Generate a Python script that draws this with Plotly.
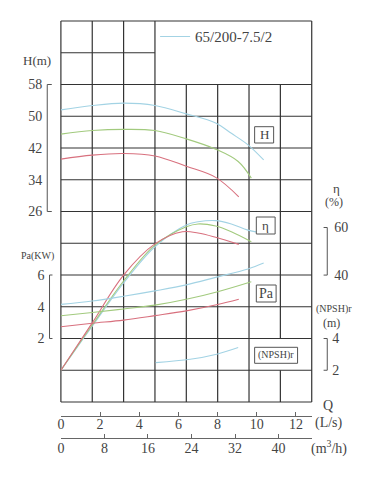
import plotly.graph_objects as go

W, HGT = 380, 479
FONT = "Liberation Serif"
TXT = "#444444"
GRID = "#333333"
C_BLUE, C_GREEN, C_RED = "#a3d3e4", "#a2ca7e", "#d8707e"

# ---------------- data ----------------
q_blue_h = [0, 1.6, 3.2, 4.8, 6.4, 7.9, 8.7, 9.55, 10.35]
h_blue = [51.6, 52.7, 53.3, 52.7, 50.6, 48.3, 45.7, 42.8, 39.0]
q_green_h = [0, 1.6, 3.2, 4.8, 6.4, 7.9, 9.05, 9.72]
h_green = [45.5, 46.4, 46.7, 46.4, 44.3, 41.7, 38.6, 34.4]
q_red_h = [0, 1.6, 3.2, 4.8, 6.4, 7.9, 9.08]
h_red = [39.2, 40.2, 40.6, 40.0, 37.4, 34.6, 29.7]

q_blue_eta = [0, 0.8, 1.6, 3.2, 4.8, 6.4, 7.0, 7.9, 8.7, 9.55, 10.35]
eta_blue = [0, 9.3, 18.5, 36.7, 51.9, 61.1, 62.4, 62.9, 61.5, 58.9, 57.6]
q_green_eta = [0, 0.8, 1.6, 3.2, 4.8, 6.4, 7.0, 7.9, 8.7, 9.72]
eta_green = [0, 9.6, 19.0, 37.5, 52.6, 60.3, 61.5, 60.6, 58.2, 54.0]
q_red_eta = [0, 0.8, 1.6, 3.2, 4.8, 6.2, 7.0, 7.9, 9.08]
eta_red = [0, 10.0, 19.9, 40.0, 53.1, 58.2, 57.7, 55.9, 52.9]

q_blue_pa = [0, 1.6, 3.2, 4.8, 6.4, 7.9, 9.55, 10.35]
pa_blue = [4.15, 4.36, 4.66, 5.0, 5.38, 5.85, 6.38, 6.75]
q_green_pa = [0, 1.6, 3.2, 4.8, 6.4, 8.0, 9.72]
pa_green = [3.43, 3.64, 3.86, 4.1, 4.47, 4.95, 5.58]
q_red_pa = [0, 1.6, 3.2, 4.8, 6.4, 8.0, 9.08]
pa_red = [2.74, 2.96, 3.16, 3.44, 3.74, 4.14, 4.47]

q_npsh = [4.84, 6.6, 7.95, 9.05]
npsh_blue = [2.48, 2.69, 3.01, 3.43]

q_ls_ticks = [0, 2, 4, 6, 8, 10, 12]
q_m3h_ticks = [0, 8, 16, 24, 32, 40]
h_ticks = [26, 34, 42, 50, 58]
pa_ticks = [2, 4, 6]
eta_ticks = [40, 60]
npsh_ticks = [2, 4]
model_name = "65/200-7.5/2"

# ---------------- helpers ----------------
def fx(p):
    return p / W

def fy(p):
    return 1 - p / HGT

X0, X1, Y0, Y1 = 57.5, 311.0, 21.0, 402.0
NCOL, NROW = 8, 12
cw = (X1 - X0) / NCOL
rh = (Y1 - Y0) / NROW

fig = go.Figure()

def add(x, y, color, yaxis, name=None, legend=False):
    fig.add_trace(go.Scatter(
        x=x, y=y, mode="lines", xaxis="x", yaxis=yaxis,
        line=dict(color=color, width=1.1, shape="spline", smoothing=1.0),
        name=name, showlegend=legend, hoverinfo="skip"))

add(q_blue_h, h_blue, C_BLUE, "y", model_name, True)
add(q_green_h, h_green, C_GREEN, "y")
add(q_red_h, h_red, C_RED, "y")
add(q_blue_eta, eta_blue, C_BLUE, "y2")
add(q_green_eta, eta_green, C_GREEN, "y2")
add(q_red_eta, eta_red, C_RED, "y2")
add(q_blue_pa, pa_blue, C_BLUE, "y3")
add(q_green_pa, pa_green, C_GREEN, "y3")
add(q_red_pa, pa_red, C_RED, "y3")
add(q_npsh, npsh_blue, C_BLUE, "y4")
# carrier for the m3/h axis
fig.add_trace(go.Scatter(x=[None], y=[None], xaxis="x2", yaxis="y",
                         showlegend=False, hoverinfo="skip"))

# ---------------- grid ----------------
shapes = []
def seg(xa, ya, xb, yb, color=GRID, w=1.2):
    shapes.append(dict(type="line", xref="paper", yref="paper",
                       x0=fx(xa), y0=fy(ya), x1=fx(xb), y1=fy(yb),
                       line=dict(color=color, width=w), layer="below"))

for i in range(NCOL + 1):
    x = X0 + i * cw
    if i in (0, 1, 2, 3, 8):
        seg(x, Y0, x, Y1)
    elif i == 7:
        seg(x, Y0 + 2 * rh, x, Y0 + 10 * rh)
        seg(x, Y0 + 11 * rh, x, Y1)
    else:
        seg(x, Y0 + 2 * rh, x, Y1)
for j in range(NROW + 1):
    y = Y0 + j * rh
    if j == 1:
        seg(X0, y, X0 + 3 * cw, y)
    else:
        seg(X0, y, X1, y)

# brackets on value axes
def bracket(xv, xt, yref, lo, hi):
    path = (f"M {fx(xt)},{hi} L {fx(xv)},{hi} L {fx(xv)},{lo} L {fx(xt)},{lo}")
    shapes.append(dict(type="path", xref="paper", yref=yref, path=path,
                       line=dict(color="#555555", width=1)))

bracket(43.7, 48.3, "y", h_ticks[0], h_ticks[-1])
bracket(46.0, 49.0, "y3", pa_ticks[0], pa_ticks[-1])
bracket(326.7, 323.0, "y2", eta_ticks[0], eta_ticks[-1])
bracket(326.7, 323.0, "y4", npsh_ticks[0], npsh_ticks[-1])

# label boxes
def box(xa, ya, xb, yb):
    shapes.append(dict(type="rect", xref="paper", yref="paper",
                       x0=fx(xa), y0=fy(ya), x1=fx(xb), y1=fy(yb),
                       line=dict(color="#555555", width=1), fillcolor="white",
                       layer="above"))

box(253.3, 126.7, 272.5, 143.0)
box(255.0, 217.0, 274.0, 234.0)
box(255.0, 285.0, 275.0, 302.0)
box(253.3, 347.3, 296.7, 363.3)

anns = []
def text(s, xp, yp, size, xanchor="center"):
    anns.append(dict(text=s, x=fx(xp), y=fy(yp), xref="paper", yref="paper",
                     showarrow=False, xanchor=xanchor, yanchor="middle",
                     font=dict(family=FONT, size=size, color=TXT)))

text("H", 262.9, 135.0, 13)
text("η", 264.5, 225.5, 13)
text("Pa", 265.0, 293.5, 14)
text("(NPSH)r", 275.0, 355.3, 10)
text("H(m)", 33, 61, 13)
text("Pa(KW)", 34, 256, 10)
text("η", 335.7, 188, 13)
text("(%)", 334, 202, 12)
text("(NPSH)r", 333.3, 309, 10)
text("(m)", 331, 322.7, 12)
text("Q", 327.7, 405.7, 14)
text("(L/s)", 328.3, 422.7, 14)
text("(m<sup>3</sup>/h)", 328.7, 447.3, 14)

tickfont = dict(family=FONT, size=14, color=TXT)
xdom = [fx(X0), fx(X1)]
ydom = [fy(Y1), fy(Y0)]
QMAX = (X1 - X0) / 19.8

def yrange(val_at_px, px_per_unit, ref_px):
    bottom = val_at_px - (Y1 - ref_px) / px_per_unit
    top = val_at_px + (ref_px - Y0) / px_per_unit
    return [bottom, top]

fig.update_layout(
    width=W, height=HGT, margin=dict(l=0, r=0, t=0, b=0),
    paper_bgcolor="white", plot_bgcolor="white",
    shapes=shapes, annotations=anns,
    showlegend=True,
    legend=dict(x=fx(152.7), y=fy(36.7), xanchor="left", yanchor="middle",
                bgcolor="rgba(0,0,0,0)", font=dict(family=FONT, size=15, color=TXT),
                itemwidth=30),
    xaxis=dict(domain=xdom, range=[0, QMAX], anchor="free", position=fy(415.7),
               showline=True, linecolor="#666666", linewidth=1, ticks="inside",
               ticklen=4, tickcolor="#666666", tickvals=q_ls_ticks, tickfont=tickfont,
               ticklabelstandoff=-5,
               showgrid=False, zeroline=False),
    xaxis2=dict(domain=xdom, range=[0, QMAX * 3.6], anchor="free", overlaying="x",
                position=fy(438.3), side="bottom",
                showline=True, linecolor="#666666", linewidth=1, ticks="inside",
                ticklen=4, tickcolor="#666666", tickvals=q_m3h_ticks, tickfont=tickfont,
                ticklabelstandoff=-3,
                showgrid=False, zeroline=False),
    yaxis=dict(domain=ydom, range=yrange(58, rh / 8, Y0 + 2 * rh), anchor="free",
               position=fx(43.7), side="left", tickvals=h_ticks, ticks="",
               ticklabelstandoff=5,
               tickfont=tickfont, showline=False, showgrid=False, zeroline=False),
    yaxis2=dict(range=yrange(0, 142.75 / 60, Y0 + 11 * rh), overlaying="y",
                anchor="free", position=fx(326.7), side="right", tickvals=eta_ticks,
                ticks="", ticklabelstandoff=6, tickfont=tickfont, showline=False,
                showgrid=False, zeroline=False),
    yaxis3=dict(range=yrange(0, rh / 2, Y0 + 11 * rh), overlaying="y",
                anchor="free", position=fx(46.0), side="left", tickvals=pa_ticks,
                ticks="", ticklabelstandoff=5, tickfont=tickfont, showline=False,
                showgrid=False, zeroline=False),
    yaxis4=dict(range=yrange(0, rh / 2, Y1), overlaying="y",
                anchor="free", position=fx(326.7), side="right", tickvals=npsh_ticks,
                ticks="", ticklabelstandoff=4, tickfont=tickfont, showline=False,
                showgrid=False, zeroline=False),
)

fig.write_html("out.html")
